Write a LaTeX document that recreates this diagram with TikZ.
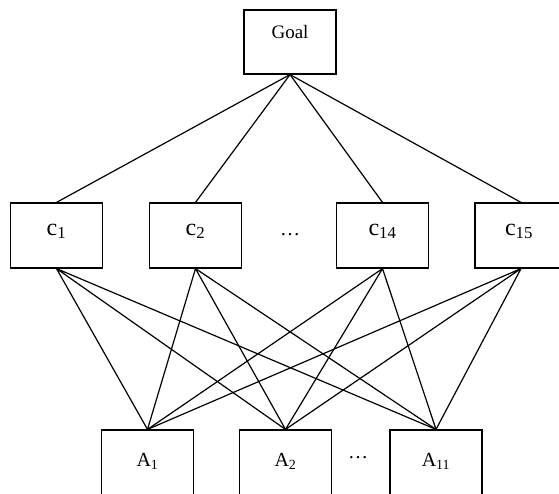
\documentclass[tikz,border=0pt]{standalone}
\usepackage{fontspec}
\setmainfont{Liberation Serif}
\begin{document}
\begin{tikzpicture}[x=1pt,y=-1pt,line width=1.2pt,
    box/.style={draw,minimum width=92pt,minimum height=64pt,inner sep=0pt},
    lbl/.style={anchor=base,inner sep=0pt}]
    \useasboundingbox (0,0) rectangle (559,493);
    \clip (0,0) rectangle (559,493);
    % boxes
    \node[box] (goal) at (290,42) {};
    \node[box,minimum height=65pt] (c1) at (56.5,235.5) {};
    \node[box,minimum height=65pt] (c2) at (195.5,235.5) {};
    \node[box,minimum height=65pt] (c14) at (382.5,235.5) {};
    \node[box,minimum height=65pt] (c15) at (521,235.5) {};
    \node[box,minimum height=80pt] (a1) at (147.5,470) {};
    \node[box,minimum height=80pt] (a2) at (285.5,470) {};
    \node[box,minimum height=80pt] (a11) at (436,470) {};
    % texts
    \node[lbl,font=\fontsize{19}{22}\selectfont] (goal-t) at (290,38.3) {Goal};
    \node[lbl,font=\fontsize{24}{28}\selectfont] (c1-t) at (56.5,235) {c\textsubscript{1}};
    \node[lbl,font=\fontsize{24}{28}\selectfont] (c2-t) at (195.5,235) {c\textsubscript{2}};
    \node[lbl,font=\fontsize{24}{28}\selectfont] (c14-t) at (382.5,235) {c\textsubscript{14}};
    \node[lbl,font=\fontsize{24}{28}\selectfont] (c15-t) at (519,235) {c\textsubscript{15}};
    \node[lbl,font=\fontsize{20}{24}\selectfont] (cdots) at (290,235) {\ldots};
    \node[lbl,font=\fontsize{20}{24}\selectfont] (a1-t) at (147.5,466.5) {A\textsubscript{1}};
    \node[lbl,font=\fontsize{20}{24}\selectfont] (a2-t) at (285.5,466.5) {A\textsubscript{2}};
    \node[lbl,font=\fontsize{20}{24}\selectfont] (a11-t) at (436,466.5) {A\textsubscript{11}};
    \node[lbl,font=\fontsize{20}{24}\selectfont] (adots) at (358,458) {\ldots};
    % goal to criteria
    \draw (goal.south) -- (c1.north);
    \draw (goal.south) -- (c2.north);
    \draw (goal.south) -- (c14.north);
    \draw (goal.south) -- (c15.north);
    % criteria to alternatives
    \draw (c1.south) -- (a1.north) (c1.south) -- (a2.north) (c1.south) -- (a11.north);
    \draw (c2.south) -- (a1.north) (c2.south) -- (a2.north) (c2.south) -- (a11.north);
    \draw (c14.south) -- (a1.north) (c14.south) -- (a2.north) (c14.south) -- (a11.north);
    \draw (c15.south) -- (a1.north) (c15.south) -- (a2.north) (c15.south) -- (a11.north);
\end{tikzpicture}
\end{document}
